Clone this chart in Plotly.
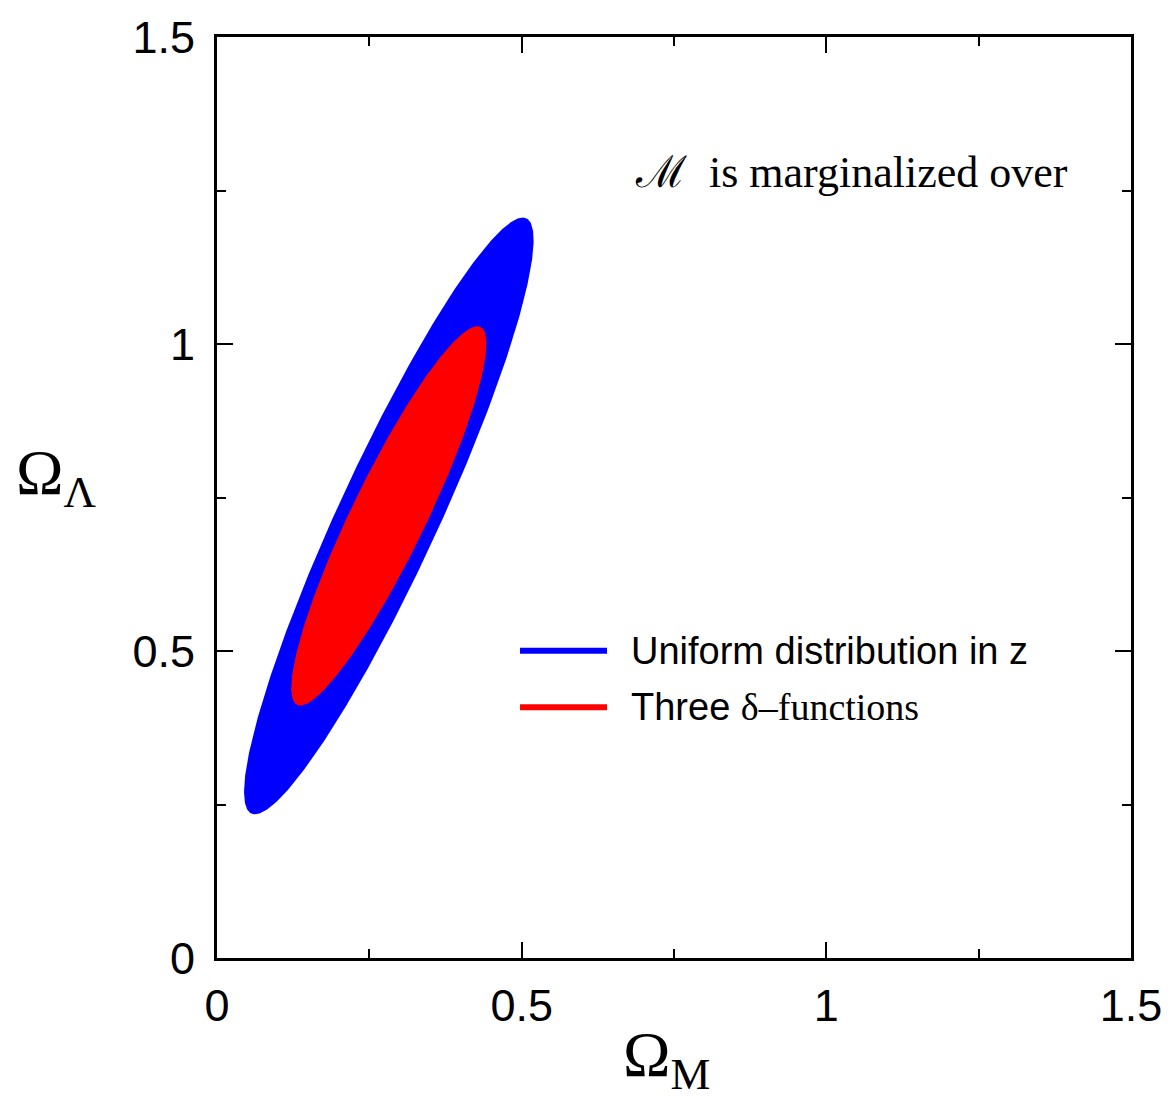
import numpy as np
import plotly.graph_objects as go

# Confidence-region parameters (data units)
region_names = ["Uniform distribution in z", "Three δ–functions"]
region_colors = ["#0000ff", "#ff0000"]
center_x = [0.282, 0.282]
center_y = [0.72, 0.72]
chord_slope = [0.452, 0.47]      # dx/dy of horizontal-chord midpoints
half_width = [0.0905, 0.0675]    # horizontal half-width at the centre
half_height = [0.486, 0.309]     # vertical half-extent

tick_vals = [0, 0.5, 1, 1.5]
tick_text = ["0", "0.5", "1", "1.5"]

fig = go.Figure()
t = np.linspace(0, 2 * np.pi, 400)
for i in range(2):
    ys = center_y[i] + half_height[i] * np.sin(t)
    xs = center_x[i] + chord_slope[i] * half_height[i] * np.sin(t) + half_width[i] * np.cos(t)
    fig.add_trace(go.Scatter(x=xs, y=ys, mode="lines", fill="toself",
                             fillcolor=region_colors[i], line=dict(width=0, color=region_colors[i]),
                             name=region_names[i], showlegend=False, hoverinfo="skip"))

sans = "Liberation Sans, Arial, sans-serif"
serif = "Liberation Serif, Times New Roman, serif"

axis_common = dict(range=[0, 1.5], tickvals=tick_vals, ticktext=tick_text,
                   showline=True, linewidth=3, linecolor="black", mirror="ticks",
                   ticks="inside", ticklen=16, tickwidth=2, tickcolor="black",
                   minor=dict(dtick=0.25, ticks="inside", ticklen=9, tickwidth=2, tickcolor="black"),
                   showgrid=False, zeroline=False, ticklabeloverflow="allow",
                   tickfont=dict(family=sans, size=45, color="black"))

fig.update_layout(
    width=1174, height=1107,
    margin=dict(l=217, r=32, t=32, b=149),
    paper_bgcolor="white", plot_bgcolor="white",
    xaxis=dict(**axis_common, ticklabelstandoff=6),
    yaxis=dict(**axis_common, ticklabelstandoff=10),
)

PW, PH = 924.5, 926.0
def px(xp):
    return (xp - 217.5) / PW
def py(yp):
    return (958 - yp) / PH

# custom legend
leg_y_px = [649, 706]
for i in range(2):
    fig.add_shape(type="line", xref="paper", yref="paper",
                  x0=px(524), x1=px(612), y0=py(leg_y_px[i]), y1=py(leg_y_px[i]),
                  line=dict(color=region_colors[i], width=6))
fig.add_annotation(xref="paper", yref="paper", x=px(634), y=py(649),
                   xanchor="left", yanchor="middle", showarrow=False,
                   text=region_names[0], font=dict(family=sans, size=38, color="black"))
fig.add_annotation(xref="paper", yref="paper", x=px(634), y=py(706),
                   xanchor="left", yanchor="middle", showarrow=False,
                   text="Three <span style='font-family:Liberation Serif'>δ–functions</span>",
                   font=dict(family=sans, size=38, color="black"))

fig.add_annotation(xref="paper", yref="paper", x=px(638), y=py(168),
                   xanchor="left", yanchor="middle", showarrow=False,
                   text="ℳ  is marginalized over",
                   font=dict(family=serif, size=44, color="black"))

# axis titles
fig.add_annotation(xref="paper", yref="paper", x=px(626), y=py(1060),
                   xanchor="left", yanchor="middle", showarrow=False,
                   text="Ω<sub>M</sub>", font=dict(family=serif, size=64, color="black"))
fig.add_annotation(xref="paper", yref="paper", x=px(12), y=py(474),
                   xanchor="left", yanchor="middle", showarrow=False,
                   text="Ω<sub>Λ</sub>", font=dict(family=serif, size=64, color="black"))

fig.write_html("out.html", config={"displayModeBar": False},
               post_script="document.body.style.margin='0';")
